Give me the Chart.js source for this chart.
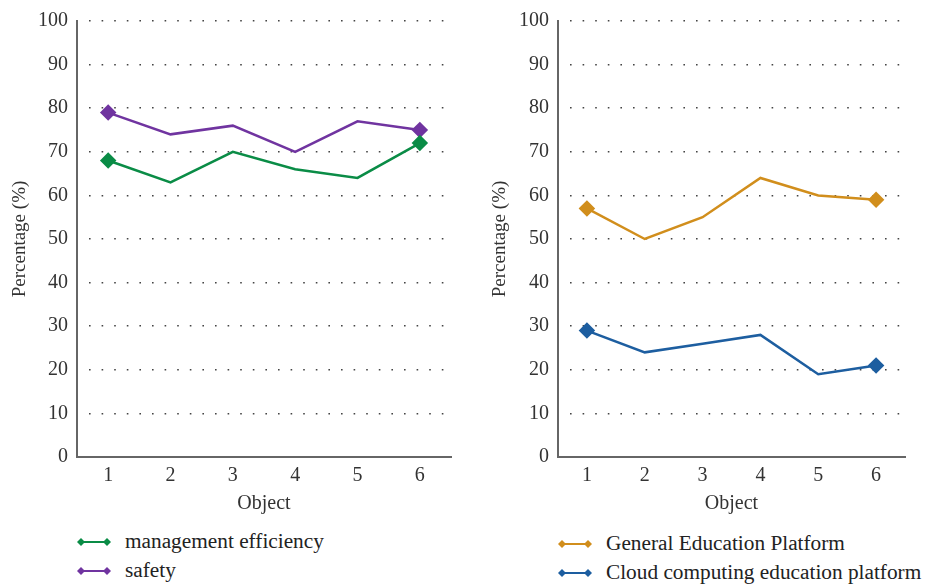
<!DOCTYPE html>
<html>
<head>
<meta charset="utf-8">
<script src="https://cdn.jsdelivr.net/npm/chart.js@4"></script>
<style>
  body{margin:0;background:#fff;width:928px;height:584px;position:relative;overflow:hidden;font-family:"Liberation Serif","Times New Roman",Times,serif;}
  .panel{position:absolute;top:0;height:520px;}
  .legend{position:absolute;font-size:21.3px;color:#222;}
  .legend div{height:29px;display:flex;align-items:center;}
  .legend svg{margin-right:14px;}
</style>
</head>
<body>
<div class="panel" style="left:0;width:460px"><canvas id="grafIzq"></canvas></div>
<div class="panel" style="left:470px;width:458px"><canvas id="grafDer"></canvas></div>
<div class="legend" id="leyendaIzq" style="left:77px;top:527px"></div>
<div class="legend" id="leyendaDer" style="left:558px;top:529px"></div>
<script>
/* ==========================
   DATOS
========================== */

const objetos = ["1","2","3","4","5","6"];

const eficiencia = [68,63,70,66,64,72];
const seguridad  = [79,74,76,70,77,75];

const plataformaGeneral = [57,50,55,64,60,59];
const plataformaNube    = [29,24,26,28,19,21];

const ticksY = [0,10,20,30,40,50,60,70,80,90,100];

/* ==========================
   COLORES
========================== */

const verde   = "#0a8c46";
const morado  = "#7034a0";
const dorado  = "#d18e1c";
const azul    = "#1d5ea0";

const fuente = "'Liberation Serif', 'Times New Roman', Times, serif";

/* solo primer y ultimo punto con marcador */
function radios(n){
    return objetos.map((_,i)=> (i===0 || i===n-1) ? 6.5 : 0);
}

function serie(label,data,color){
    return {
        label:label,
        data:data,
        borderColor:color,
        backgroundColor:color,
        borderWidth:2.5,
        tension:0,
        pointStyle:"rectRot",
        pointRadius:radios(data.length),
        pointHoverRadius:radios(data.length)
    };
}

function opciones(anchoY,padTitulo,padDerecha,padArriba){
    return {
        responsive:false,
        animation:false,
        layout:{padding:{top:padArriba,right:padDerecha,bottom:0,left:0}},
        plugins:{legend:{display:false},tooltip:{enabled:false}},
        scales:{
            x:{
                offset:true,
                grid:{display:false,drawTicks:false},
                border:{display:true,color:"#666",width:2},
                ticks:{color:"#333",font:{family:fuente,size:20},padding:7},
                title:{display:true,text:"Object",color:"#333",
                       font:{family:fuente,size:20},padding:{top:1}},
                afterFit:(s)=>{ s.height = 520 - 457; }
            },
            y:{
                min:0,max:100,
                afterBuildTicks:(s)=>{ s.ticks = ticksY.map(v=>({value:v})); },
                grid:{color:"#444",lineWidth:1.6,drawTicks:false,
                      borderDash:[1.6,11],borderDashOffset:-11},
                border:{display:true,color:"#666",width:2,dash:[1.6,11],dashOffset:-11},
                ticks:{color:"#333",font:{family:fuente,size:20},padding:9},
                title:{display:true,text:"Percentage (%)",color:"#333",
                       font:{family:fuente,size:19},padding:{top:padTitulo,bottom:0}},
                afterFit:(s)=>{ s.width = anchoY; }
            }
        }
    };
}

function crear(id,ancho,series,anchoY,padTitulo,padDerecha,padArriba){
    const c = document.getElementById(id);
    c.width = ancho; c.height = 520;
    return new Chart(c,{
        type:"line",
        data:{labels:objetos,datasets:series},
        options:opciones(anchoY,padTitulo,padDerecha,padArriba)
    });
}

crear("grafIzq",460,[
    serie("management efficiency",eficiencia,verde),
    serie("safety",seguridad,morado)
],77,9,8,16);

crear("grafDer",458,[
    serie("General Education Platform",plataformaGeneral,dorado),
    serie("Cloud computing education platform",plataformaNube,azul)
],88,19,23,19);

/* ==========================
   LEYENDAS
========================== */

function leyenda(id,items){
    const caja = document.getElementById(id);
    items.forEach(([texto,color])=>{
        const fila = document.createElement("div");
        fila.innerHTML =
          '<svg width="34" height="12"><line x1="4" y1="6" x2="30" y2="6" stroke="'+color+'" stroke-width="2"/>'+
          '<path d="M4 2 L8 6 L4 10 L0 6Z" fill="'+color+'"/><path d="M30 2 L34 6 L30 10 L26 6Z" fill="'+color+'"/></svg>'+
          '<span>'+texto+'</span>';
        caja.appendChild(fila);
    });
}

leyenda("leyendaIzq",[["management efficiency",verde],["safety",morado]]);
leyenda("leyendaDer",[["General Education Platform",dorado],["Cloud computing education platform",azul]]);
</script>
</body>
</html>
